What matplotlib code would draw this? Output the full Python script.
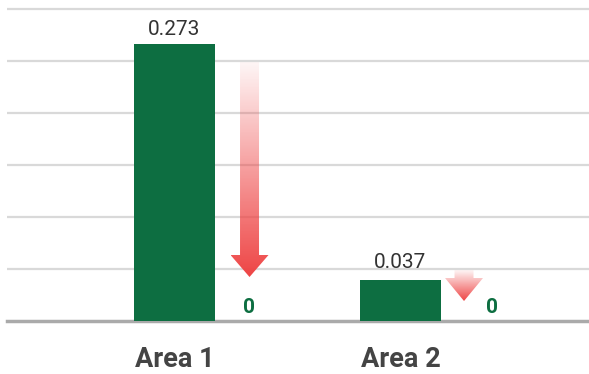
import numpy as np
import matplotlib.pyplot as plt
from matplotlib.patches import Polygon

# data
categories = ['Area 1', 'Area 2']
values = [0.273, 0.037]
value_labels = ['0.273', '0.037']
new_values = [0, 0]

# arrow geometry (data units): x centre, top of shaft, top of head, tip
arrow_x = [0.332, 1.281]
arrow_top = [0.255, 0.047]
arrow_head = [0.062, 0.039]
arrow_tip = [0.040, 0.016]
zero_label_x = [0.330, 1.407]

GREEN = '#0d6e41'
RED = (0.937, 0.267, 0.267)
BASE = -0.004

plt.rcParams['font.family'] = ['Roboto', 'DejaVu Sans']

fig = plt.figure(figsize=(5.89, 3.74), dpi=100)
fig.patch.set_facecolor('white')
ax = fig.add_axes([7 / 589, 53 / 374, 582 / 589, 316 / 374])

x = np.arange(len(categories))
heights = [v - BASE for v in values]
ax.bar(x, heights, bottom=BASE, width=0.358, color=GREEN, zorder=3)

label_offsets = [6.5, 8.5]
for xi, v, lab, off in zip(x, values, value_labels, label_offsets):
    ax.annotate(lab, (xi, v), xytext=(0, off), textcoords='offset points',
                ha='center', va='baseline', fontsize=15, color='#333333')


def gradient_arrow(ax, xc, top, head, tip, shaft_w=0.084, head_w=0.168):
    pts = [(xc - shaft_w / 2, top), (xc + shaft_w / 2, top),
           (xc + shaft_w / 2, head), (xc + head_w / 2, head),
           (xc, tip), (xc - head_w / 2, head), (xc - shaft_w / 2, head)]
    poly = Polygon(pts, closed=True, transform=ax.transData,
                   facecolor='none', edgecolor='none')
    ax.add_patch(poly)
    grad = np.zeros((256, 1, 4))
    grad[:, 0, 0:3] = RED
    grad[:, 0, 3] = np.linspace(1.0, 0.05, 256)
    im = ax.imshow(grad, extent=[xc - head_w / 2, xc + head_w / 2, tip, top],
                   origin='lower', aspect='auto', zorder=4,
                   interpolation='bilinear')
    im.set_clip_path(poly)


for i in range(len(categories)):
    gradient_arrow(ax, arrow_x[i], arrow_top[i], arrow_head[i], arrow_tip[i])
    ax.annotate(str(new_values[i]), (zero_label_x[i], 0), xytext=(0, 3),
                textcoords='offset points', ha='center', va='baseline',
                fontsize=15, fontweight='bold', color=GREEN)

ax.set_xlim(-0.741, 1.834)
ax.set_ylim(BASE, BASE + 0.316)
ax.set_yticks([BASE + 0.052 * k for k in range(1, 7)])
ax.yaxis.grid(True, color='#d9d9d9', linewidth=1.6, zorder=0)
ax.set_axisbelow(True)
ax.tick_params(axis='y', left=False, labelleft=False)
ax.set_xticks(x)
ax.set_xticklabels(categories, fontsize=19.5, fontweight='bold', color='#444444')
ax.tick_params(axis='x', length=0, pad=18)
for s in ['top', 'right', 'left']:
    ax.spines[s].set_visible(False)
ax.spines['bottom'].set_color('#aaaaaa')
ax.spines['bottom'].set_linewidth(2.5)

fig.savefig('out.png', dpi=100, facecolor='white')
